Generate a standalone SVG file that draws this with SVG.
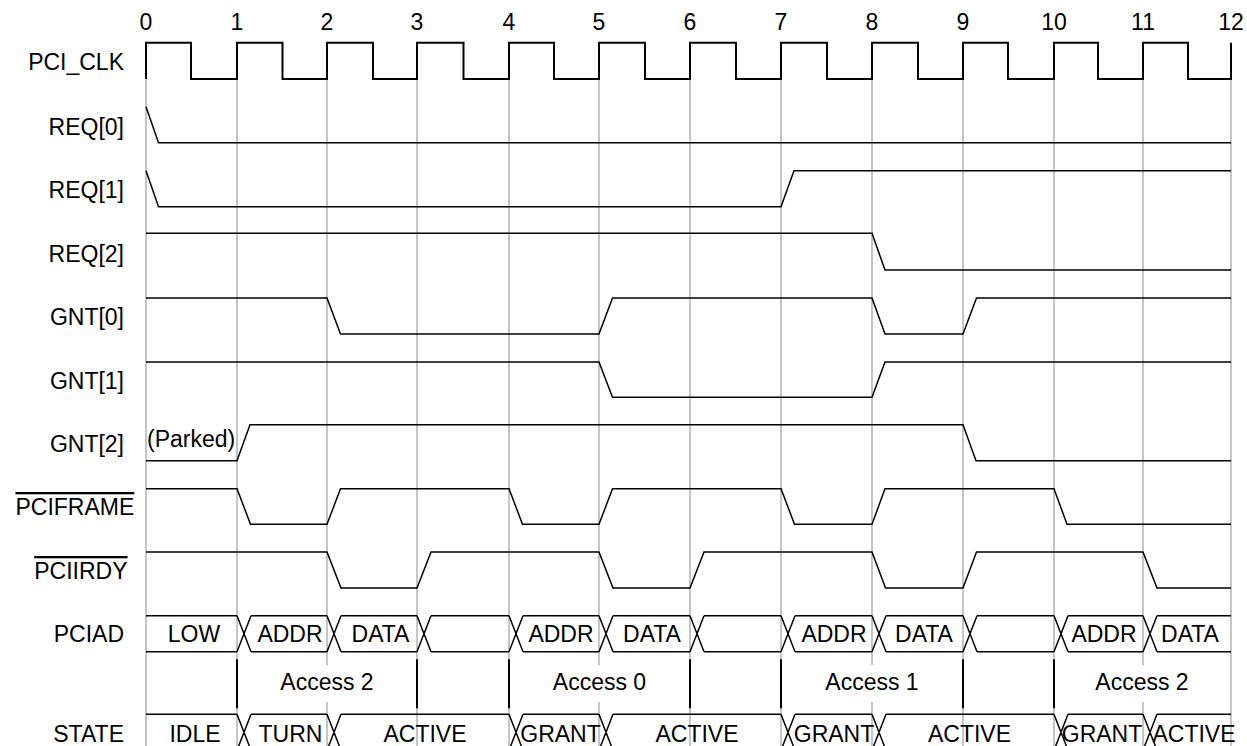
<svg xmlns="http://www.w3.org/2000/svg" width="1247" height="746" viewBox="0 0 1247 746">
<style>
text { font-family: "Liberation Sans", Arial, Helvetica, sans-serif; font-size: 23px; fill: #000; }
.lbl { text-anchor: end; }
.mid { text-anchor: middle; }
.grid { stroke: #b3b3b3; stroke-width: 1.5; fill: none; }
.sig { stroke: #000; stroke-width: 1.5; fill: none; stroke-linejoin: miter; }
.clk { stroke: #000; stroke-width: 2; fill: none; }
.acc { stroke: #000; stroke-width: 2; fill: none; }
.ov { text-decoration: overline; }
</style>
<rect width="1247" height="746" fill="#fff"/>

<g id="grid" class="grid">
<path d="M146,79V746 M237,79V746 M327,79V665 M327,702V746 M417,79V746 M509,79V746 M599,79V665 M599,702V746 M690,79V746 M781,79V746 M872,79V665 M872,702V746 M963,79V746 M1054,79V746 M1143,79V665 M1143,702V746 M1231,79V746"/>
</g>

<g id="ticks" class="mid">
<text x="146" y="30">0</text><text x="237" y="30">1</text><text x="327" y="30">2</text><text x="417" y="30">3</text><text x="509" y="30">4</text><text x="599" y="30">5</text><text x="690" y="30">6</text><text x="781" y="30">7</text><text x="872" y="30">8</text><text x="963" y="30">9</text><text x="1054" y="30">10</text><text x="1143" y="30">11</text><text x="1231" y="30">12</text>
</g>

<g id="pci_clk">
<text class="lbl" x="124" y="70">PCI_CLK</text>
<path class="clk" d="M146,79V42.7H191V79H237V42.7H282.5V79H327V42.7H373V79H417V42.7H463.5V79H509V42.7H554V79H599V42.7H645V79H690V42.7H736V79H781V42.7H827V79H872V42.7H918V79H963V42.7H1008V79H1054V42.7H1098V79H1143V42.7H1188V79H1231V42.7"/>
</g>

<g id="req0">
<text class="lbl" x="124" y="134.5">REQ[0]</text>
<path class="sig" d="M146,106.7L158.5,142.7H1231"/>
</g>

<g id="req1">
<text class="lbl" x="124" y="198">REQ[1]</text>
<path class="sig" d="M146,170.7L158.5,206.7H781L794,170.7H1231"/>
</g>

<g id="req2">
<text class="lbl" x="124" y="262">REQ[2]</text>
<path class="sig" d="M146,233.3H872L885,270H1231"/>
</g>

<g id="gnt0">
<text class="lbl" x="124" y="325">GNT[0]</text>
<path class="sig" d="M146,298H327L340.5,334H599L612.5,298H872L885,334H963L976.5,298H1231"/>
</g>

<g id="gnt1">
<text class="lbl" x="124" y="389">GNT[1]</text>
<path class="sig" d="M146,362H599L612.5,397.3H872L885,362H1231"/>
</g>

<g id="gnt2">
<text class="lbl" x="124" y="452">GNT[2]</text>
<text x="147" y="446.5">(Parked)</text>
<path class="sig" d="M146,460.7H237L250,424.7H963L976,460.7H1231"/>
</g>

<g id="pciframe">
<text class="lbl ov" x="134.3" y="515">PCIFRAME</text>
<path class="sig" d="M146,488.7H237L250.5,524.3H327L340.5,488.7H509L522.5,524.3H599L612.5,488.7H781L794.5,524.3H872L885,488.7H1054L1067,524.3H1231"/>
</g>

<g id="pciirdy">
<text class="lbl ov" x="127.5" y="579">PCIIRDY</text>
<path class="sig" d="M146,552H327L341,588H417L431,552H599L613,588H690L704,552H872L885.5,588H963L976.5,552H1143L1157,588H1231"/>
</g>

<g id="pciad">
<text class="lbl" x="124" y="641.5">PCIAD</text>
<path class="sig" d="M146,615.7H237M251,615.7H327M341,615.7H417M431,615.7H509M523,615.7H599M613,615.7H690M704,615.7H781M795,615.7H872M886,615.7H963M977,615.7H1054M1068,615.7H1143M1157,615.7H1231
M146,651.7H237M251,651.7H327M341,651.7H417M431,651.7H509M523,651.7H599M613,651.7H690M704,651.7H781M795,651.7H872M886,651.7H963M977,651.7H1054M1068,651.7H1143M1157,651.7H1231
M237,615.7L251,651.7M237,651.7L251,615.7
M327,615.7L341,651.7M327,651.7L341,615.7
M417,615.7L431,651.7M417,651.7L431,615.7
M509,615.7L523,651.7M509,651.7L523,615.7
M599,615.7L613,651.7M599,651.7L613,615.7
M690,615.7L704,651.7M690,651.7L704,615.7
M781,615.7L795,651.7M781,651.7L795,615.7
M872,615.7L886,651.7M872,651.7L886,615.7
M963,615.7L977,651.7M963,651.7L977,615.7
M1054,615.7L1068,651.7M1054,651.7L1068,615.7
M1143,615.7L1157,651.7M1143,651.7L1157,615.7"/>
<g class="mid">
<text x="194" y="641.5">LOW</text>
<text x="290" y="641.5">ADDR</text>
<text x="380.5" y="641.5">DATA</text>
<text x="561" y="641.5">ADDR</text>
<text x="652" y="641.5">DATA</text>
<text x="834" y="641.5">ADDR</text>
<text x="924" y="641.5">DATA</text>
<text x="1104" y="641.5">ADDR</text>
<text x="1190" y="641.5">DATA</text>
</g>
</g>

<g id="access">
<path class="acc" d="M237,659.3V708.3M417,659.3V708.3M509,659.3V708.3M690,659.3V708.3M781,659.3V708.3M963,659.3V708.3M1054,659.3V708.3"/>
<g class="mid">
<text x="327" y="690">Access 2</text>
<text x="599.5" y="690">Access 0</text>
<text x="872" y="690">Access 1</text>
<text x="1142" y="690">Access 2</text>
</g>
</g>

<g id="state">
<text class="lbl" x="124" y="741.5">STATE</text>
<path class="sig" d="M146,714.3H237M251,714.3H327M341,714.3H509M523,714.3H599M613,714.3H781M795,714.3H872M886,714.3H1054M1068,714.3H1143M1157,714.3H1231
M237,714.3L251,750.3M237,750.3L251,714.3
M327,714.3L341,750.3M327,750.3L341,714.3
M509,714.3L523,750.3M509,750.3L523,714.3
M599,714.3L613,750.3M599,750.3L613,714.3
M781,714.3L795,750.3M781,750.3L795,714.3
M872,714.3L886,750.3M872,750.3L886,714.3
M1054,714.3L1068,750.3M1054,750.3L1068,714.3
M1143,714.3L1157,750.3M1143,750.3L1157,714.3"/>
<g class="mid">
<text x="195" y="741.5">IDLE</text>
<text x="290.5" y="741.5">TURN</text>
<text x="425" y="741.5">ACTIVE</text>
<text x="560.5" y="741.5">GRANT</text>
<text x="697" y="741.5">ACTIVE</text>
<text x="834" y="741.5">GRANT</text>
<text x="969.5" y="741.5">ACTIVE</text>
<text x="1102" y="741.5">GRANT</text>
<text x="1194" y="741.5">ACTIVE</text>
</g>
</g>
</svg>
